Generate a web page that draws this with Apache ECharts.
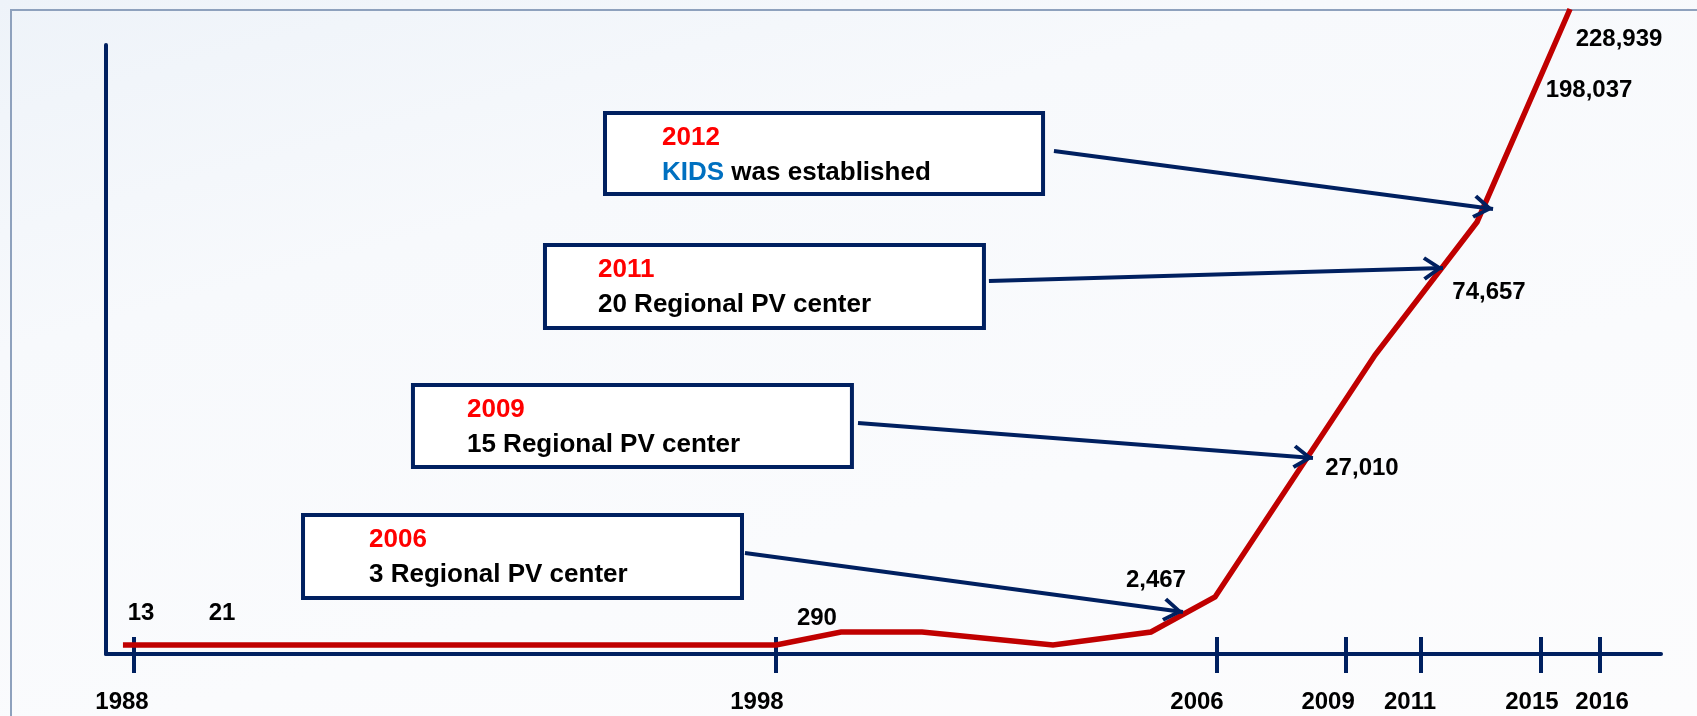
<!DOCTYPE html>
<html>
<head>
<meta charset="utf-8">
<script src="https://cdn.jsdelivr.net/npm/echarts@6/dist/echarts.min.js"></script>
<style>
  html, body { margin: 0; padding: 0; }
  body { width: 1697px; height: 716px; overflow: hidden;
    background: linear-gradient(165deg, #eef3f9 0%, #f7f9fc 30%, #fafbfd 65%, #fcfcfd 100%); position: relative; }
  #frame { position: absolute; left: 10px; top: 9px; right: 0; bottom: 0;
    border-left: 2px solid #8ea1bd; border-top: 2px solid #8ea1bd; }
  #chart { position: absolute; left: 0; top: 0; width: 1697px; height: 716px; }
</style>
</head>
<body>
<div id="frame"></div>
<div id="chart"></div>
<script>
// ---- Axis (schematic position along the axis, 0-100) ----
const tickYears = ['1988', '1998', '2006', '2009', '2011', '2015', '2016'];
const tickPos = [1.80, 43.09, 71.41, 79.74, 84.57, 92.28, 96.08];
const tickLabelPos = [1.03, 41.86, 70.16, 78.59, 83.86, 91.70, 96.21];

// ---- Red curve (schematic) ----
const lineX = [1.09, 43.09, 47.27, 52.48, 60.90, 67.20, 71.32, 81.61, 88.17, 94.15];
const lineY = [1.48, 1.48, 3.61, 3.61, 1.48, 3.61, 9.36, 49.10, 70.94, 105.91];

// ---- Report counts ----
const countLabels = ['13', '21', '290', '2,467', '27,010', '74,657', '198,037', '228,939'];
const countX = [2.25, 7.46, 45.72, 67.52, 80.77, 88.94, 95.37, 97.30];
const countY = [6.60, 6.60, 5.78, 12.15, 30.40, 59.30, 92.60, 100.90];

// ---- Event boxes ----
const eventYears = ['2012', '2011', '2009', '2006'];
const eventLead = ['KIDS', '', '', ''];
const eventText = [' was established', '20 Regional PV center', '15 Regional PV center', '3 Regional PV center'];
const boxX1 = [32.09, 28.23, 19.74, 12.67];
const boxX2 = [60.26, 56.46, 47.97, 40.90];
const boxTop = [88.83, 67.16, 44.17, 22.82];
const boxBottom = [75.53, 53.53, 30.71, 9.20];
const textIndent = [59, 55, 56, 68];

// ---- Arrows from boxes to curve ----
const arrowFromX = [60.96, 56.78, 48.36, 41.09];
const arrowFromY = [82.59, 61.25, 37.93, 16.58];
const arrowToX = [89.20, 85.98, 77.62, 69.26];
const arrowToY = [73.07, 63.38, 32.18, 6.90];

const NAVY = '#002060';
const FONT = "'Liberation Sans', Arial, sans-serif";

const chevron = 'path://M10,0 L20,14.5 L17.5,16.5 L10,5.5 L2.5,16.5 L0,14.5 Z M10,-16.5 L10.01,-16.5 L10,-16.49 Z';

const lineData = lineX.map((x, i) => [x, lineY[i]]);
const countData = countLabels.map((t, i) => ({ name: t, value: [countX[i], countY[i]] }));

const txt = { fontSize: 26, fontWeight: 'bold', fontFamily: FONT, lineHeight: 35 };
const areaData = eventYears.map((y, i) => {
  const line2 = (eventLead[i] ? '{h|' + eventLead[i] + '}' : '') + '{t|' + eventText[i] + '}';
  return [
    {
      coord: [boxX1[i], boxTop[i]],
      itemStyle: { color: '#ffffff', borderColor: NAVY, borderWidth: 4, opacity: 1 },
      label: {
        show: true,
        position: [textIndent[i], 9],
        formatter: '{y|' + y + '}\n' + line2,
        rich: {
          y: Object.assign({ color: '#ff0000' }, txt),
          h: Object.assign({ color: '#0070c0' }, txt),
          t: Object.assign({ color: '#000000' }, txt)
        }
      }
    },
    { coord: [boxX2[i], boxBottom[i]] }
  ];
});

const arrowData = arrowFromX.map((x, i) => [
  { coord: [x, arrowFromY[i]] },
  { coord: [arrowToX[i], arrowToY[i]] }
]);

function nearestLabel(v) {
  let best = 0;
  for (let i = 1; i < tickLabelPos.length; i++) {
    if (Math.abs(tickLabelPos[i] - v) < Math.abs(tickLabelPos[best] - v)) best = i;
  }
  return tickYears[best];
}

const chart = echarts.init(document.getElementById('chart'), null, { renderer: 'canvas' });
chart.setOption({
  backgroundColor: 'transparent',
  animation: false,
  grid: { left: 106, right: 36, top: 45, bottom: 62, containLabel: false },
  xAxis: [
    {
      type: 'value', min: 0, max: 100, position: 'bottom',
      axisLine: { show: true, onZero: false, lineStyle: { color: NAVY, width: 4 } },
      axisTick: { show: true, inside: false, length: 19, customValues: tickPos,
        lineStyle: { color: NAVY, width: 4 } },
      axisLabel: { show: true, customValues: tickLabelPos, margin: 36,
        formatter: v => nearestLabel(v),
        color: '#000', fontSize: 24, fontWeight: 'bold', fontFamily: FONT,
        showMinLabel: true, showMaxLabel: true, hideOverlap: false },
      splitLine: { show: false }
    },
    {
      type: 'value', min: 0, max: 100, position: 'bottom', offset: 0,
      axisLine: { show: false },
      axisTick: { show: true, inside: true, length: 17, customValues: tickPos,
        lineStyle: { color: NAVY, width: 4 } },
      axisLabel: { show: false },
      splitLine: { show: false }
    }
  ],
  yAxis: {
    type: 'value', min: 0, max: 100,
    axisLine: { show: true, onZero: false, lineStyle: { color: NAVY, width: 4 } },
    axisTick: { show: false },
    axisLabel: { show: false },
    splitLine: { show: false }
  },
  series: [
    {
      type: 'line',
      name: 'boxes',
      data: [],
      silent: true,
      z: 1,
      markArea: { silent: true, data: areaData }
    },
    {
      type: 'line',
      name: 'reports',
      data: lineData,
      clip: false,
      showSymbol: false,
      symbol: 'none',
      smooth: false,
      silent: true,
      z: 2,
      lineStyle: { color: '#c00000', width: 5.5, join: 'miter' }
    },
    {
      type: 'line',
      name: 'arrows',
      data: [],
      silent: true,
      z: 3,
      markLine: {
        silent: true,
        symbol: ['none', chevron],
        symbolSize: [24, 40],
        label: { show: false },
        lineStyle: { color: NAVY, width: 4, type: 'solid' },
        emphasis: { disabled: true },
        data: arrowData
      }
    },
    {
      type: 'scatter',
      name: 'counts',
      data: countData,
      clip: false,
      symbolSize: 1,
      itemStyle: { color: 'rgba(0,0,0,0)', opacity: 1 },
      silent: true,
      z: 4,
      label: {
        show: true, position: 'inside',
        formatter: p => p.name,
        color: '#000000', opacity: 1, fontSize: 24, fontWeight: 'bold', fontFamily: FONT
      }
    }
  ]
});
</script>
</body>
</html>
